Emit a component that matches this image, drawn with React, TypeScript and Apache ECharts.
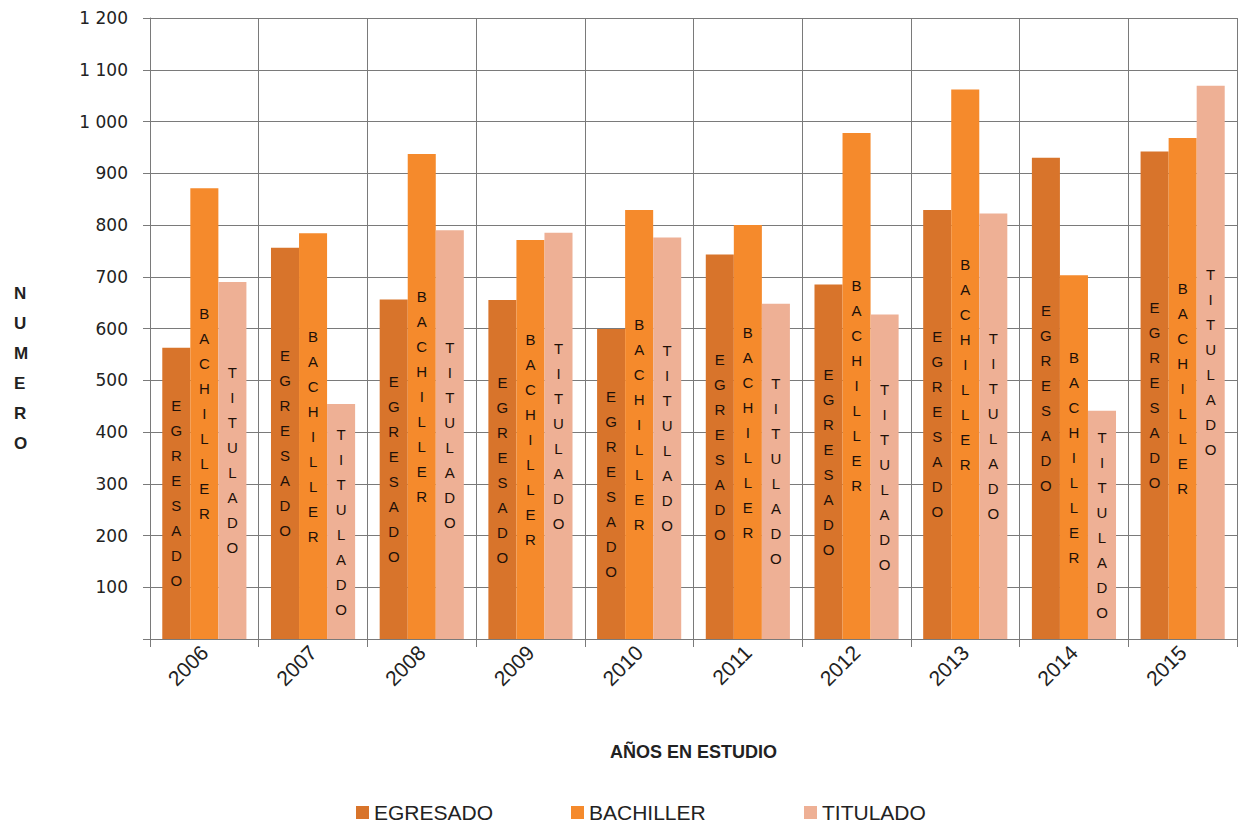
import React, { useEffect, useRef } from "react";
import * as echarts from "echarts";

const years = ["2006", "2007", "2008", "2009", "2010", "2011", "2012", "2013", "2014", "2015"];
const egresado = [563, 756, 656, 655, 599, 743, 685, 829, 930, 942];
const bachiller = [871, 784, 937, 771, 829, 800, 978, 1062, 703, 968];
const titulado = [690, 454, 790, 785, 776, 648, 627, 822, 441, 1069];
const seriesNames = ["EGRESADO", "BACHILLER", "TITULADO"];
const seriesColors = ["#D8742B", "#F58A2C", "#EEB095"];
const yTitle = "NUMERO";

const fmtY = (v: number) => {
  if (v === 0) return "";
  if (v >= 1000) return Math.floor(v / 1000) + " " + String(v % 1000).padStart(3, "0");
  return String(v);
};

export default function App() {
  const ref = useRef<HTMLDivElement>(null);
  useEffect(() => {
    if (!ref.current) return;
    const chart = echarts.init(ref.current, null, { renderer: "svg" });
    const values = [egresado, bachiller, titulado];
    const legendLefts = [356, 571, 804];
    chart.setOption({
      animation: false,
      backgroundColor: "#ffffff",
      grid: { left: 150, right: 2, top: 18, bottom: 184, containLabel: false },
      graphic: [
        {
          type: "text",
          left: 14,
          top: 278,
          style: {
            text: yTitle.split("").join("\n"),
            fontFamily: "Liberation Sans",
            fontSize: 17,
            fontWeight: "bold",
            lineHeight: 30,
            fill: "#222",
            align: "center",
          },
        },
      ],
      legend: seriesNames.map((n, i) => ({
        data: [n],
        left: legendLefts[i],
        top: 802,
        padding: 0,
        icon: "rect",
        itemWidth: 13,
        itemHeight: 13,
        itemGap: 4,
        textStyle: { fontFamily: "Liberation Sans", fontSize: 21, lineHeight: 20, color: "#222" },
      })),
      xAxis: {
        type: "category",
        data: years,
        name: "AÑOS EN ESTUDIO",
        nameLocation: "middle",
        nameGap: 104,
        nameTextStyle: { fontFamily: "Liberation Sans", fontSize: 18, fontWeight: "bold", color: "#222" },
        axisLine: { show: true, lineStyle: { color: "#7a7a7a", width: 1 } },
        axisTick: { show: true, length: 8, lineStyle: { color: "#7a7a7a" } },
        splitLine: { show: true, interval: 0, lineStyle: { color: "#7a7a7a", width: 1 } },
        axisLabel: {
          rotate: 45,
          interval: 0,
          margin: 10,
          fontFamily: "Liberation Sans",
          fontSize: 21,
          color: "#222",
        },
      },
      yAxis: {
        type: "value",
        min: 0,
        max: 1200,
        interval: 100,
        axisLine: { show: true, lineStyle: { color: "#7a7a7a", width: 1 } },
        axisTick: { show: true, length: 7, lineStyle: { color: "#7a7a7a" } },
        splitLine: { show: true, lineStyle: { color: "#7a7a7a", width: 1 } },
        axisLabel: {
          formatter: fmtY,
          margin: 22,
          fontFamily: "DejaVu Sans",
          fontSize: 17,
          color: "#222",
        },
      },
      series: seriesNames.map((n, i) => ({
        name: n,
        type: "bar",
        data: values[i],
        barGap: "0%",
        barCategoryGap: "22.6%",
        itemStyle: { color: seriesColors[i] },
        label: {
          show: true,
          position: "inside",
          formatter: () => n.split("").join("\n"),
          fontFamily: "Liberation Sans",
          fontSize: 15,
          lineHeight: 25,
          color: "#1e1008",
        },
      })),
    });
    return () => chart.dispose();
  }, []);
  return (
    <div
      ref={ref}
      style={{ position: "fixed", left: 0, top: 0, width: 1239, height: 823 }}
    />
  );
}
